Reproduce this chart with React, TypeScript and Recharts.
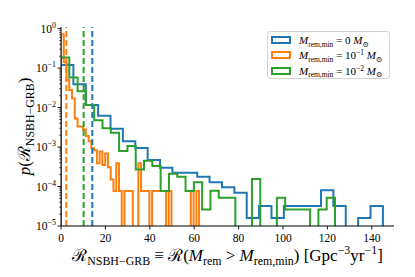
import React from 'react';
import { LineChart, Line, XAxis, YAxis, ReferenceLine, Legend } from 'recharts';

const FONT = '"Liberation Serif", "DejaVu Serif", serif';

// ---- data ----
const seriesNames = ['Mmin0', 'Mmin1', 'Mmin2'];
const seriesColors = ['#1f77b4', '#ff7f0e', '#2ca02c'];
const massMinBase = ['0', '10', '10'];
const massMinExp = ['', '−1', '−2'];

// histogram bin widths (Gpc^-3 yr^-1)
const binWidthM0 = 5.577;
const binWidthM1 = 1.244;
const binWidthM2 = 3.74;

// probability densities per bin
const densityM0 = [
  0.12, 0.039, 0.0116, 0.0062, 0.0029, 0.0014, 0.00095, 0.00047, 0.0003, 0.000224,
  0.000224, 0.000176, 0.000128, 0.000096, 0.00007, 0.000016, 0.000032, 0.000016, 0.000032, 0.000032,
  0.000032, 0.00008, 0.000032, 0, 0.000016, 0.000032,
];
const densityM1 = [
  0.72, 0.14, 0.05, 0.028, 0.017, 0.0053, 0.0033, 0.0033, 0.0028, 0.0019,
  0.0014, 0.00093, 0.00083, 0.00039, 0.00077, 0.00035, 0.00069, 0.00031, 0.00015, 0.000077,
  0.00039, 0.000077, 0, 0.000077, 0.000077, 0.000077, 0, 0, 0.00039, 0.000077,
  0.000077, 0.000077, 0, 0.000077, 0.000077, 0.000077, 0.000077, 0.000077, 0, 0.000077,
  0, 0, 0, 0, 0, 0, 0, 0.000077, 0, 0.000077,
];
const densityM2 = [
  0.187, 0.058, 0.026, 0.0116, 0.0048, 0.003, 0.0023, 0.0008, 0.00106, 0.00027,
  0.00045, 0.00033, 0.000077, 0.00021, 0.000177, 0.000077, 0.000128, 0.000026, 0.000078, 0.000052,
  0.000052, 0, 0, 0.000156, 0, 0, 0.000052, 0.000026, 0.000026, 0.000026,
  0, 0.000026, 0.000052,
];
const meanRate = [14.1, 2.4, 10.2];

const xTicks = [0, 20, 40, 60, 80, 100, 120, 140];
const yDecades = [-5, -4, -3, -2, -1, 0];
const xDomain: [number, number] = [0, 150];
const yDomain: [number, number] = [1e-5, 1.1];
const titleText = 'Gaussian mass ratio';

// ---- helpers ----
const FLOOR = 1e-9;
function stepPoints(dens: number[], w: number) {
  const pts: { x: number; y: number }[] = [{ x: 0, y: FLOOR }];
  dens.forEach((v, i) => pts.push({ x: i * w, y: v > 0 ? v : FLOOR }));
  pts.push({ x: dens.length * w, y: FLOOR });
  return pts;
}
const histograms = [
  stepPoints(densityM0, binWidthM0),
  stepPoints(densityM1, binWidthM1),
  stepPoints(densityM2, binWidthM2),
];
const yTicks: number[] = [];
yDecades.forEach((e) => {
  if (e === 0) yTicks.push(1);
  else [1, 2, 3, 4, 5, 6, 7, 8, 9].forEach((m) => yTicks.push(m * Math.pow(10, e)));
});

type Seg = { t: string; pos?: 'sub' | 'sup'; it?: boolean };
function rich(segs: Seg[], size: number) {
  let cur = 0;
  return segs.map((s, i) => {
    const target = s.pos === 'sub' ? size * 0.25 : s.pos === 'sup' ? -size * 0.4 : 0;
    const dy = target - cur;
    cur = target;
    return (
      <tspan key={i} dy={dy} fontSize={s.pos ? size * 0.7 : size} fontStyle={s.it ? 'italic' : 'normal'}>
        {s.t}
      </tspan>
    );
  });
}

const XTick = (props: any) => {
  const { x, y, payload } = props;
  return (
    <g>
      <line x1={x} x2={x} y1={y} y2={y + 3.5} stroke="#000" strokeWidth={0.9} />
      <text x={x} y={y + 16} textAnchor="middle" fontFamily={FONT} fontSize={11.5} fill="#000">
        {payload.value}
      </text>
    </g>
  );
};

const YTick = (props: any) => {
  const { x, y, payload } = props;
  const v = payload.value as number;
  const lg = Math.log10(v);
  const e = Math.round(lg);
  const major = Math.abs(lg - e) < 1e-6;
  return (
    <g>
      <line x1={x - (major ? 3.5 : 2)} x2={x} y1={y} y2={y} stroke="#000" strokeWidth={major ? 0.9 : 0.6} />
      {major && (
        <text x={x - 5} y={y + 4} textAnchor="end" fontFamily={FONT} fontSize={11.5} fill="#000">
          10
          <tspan dy={-5} fontSize={8}>{e === 0 ? '0' : '−' + -e}</tspan>
        </text>
      )}
    </g>
  );
};

const XLabelC = (props: any) => {
  const vb = props.viewBox || { x: 61, y: 226, width: 333, height: 51 };
  return (
    <text x={vb.x + vb.width / 2} y={vb.y + 35} textAnchor="middle" fontFamily={FONT} fill="#000" style={{ whiteSpace: 'pre' }}>
      {rich(
        [
          { t: 'ℛ' },
          { t: 'NSBH−GRB', pos: 'sub' },
          { t: ' ≡ ℛ(' },
          { t: 'M', it: true },
          { t: 'rem', pos: 'sub' },
          { t: ' > ' },
          { t: 'M', it: true },
          { t: 'rem,min', pos: 'sub' },
          { t: ') [Gpc' },
          { t: '−3', pos: 'sup' },
          { t: 'yr' },
          { t: '−1', pos: 'sup' },
          { t: ']' },
        ],
        17
      )}
    </text>
  );
};

const YLabelC = (props: any) => {
  const vb = props.viewBox || { x: 0, y: 27, width: 61, height: 199 };
  const cx = 30;
  const cy = vb.y + vb.height / 2;
  return (
    <text x={cx} y={cy} transform={`rotate(-90 ${cx} ${cy})`} textAnchor="middle" fontFamily={FONT} fill="#000" style={{ whiteSpace: 'pre' }}>
      {rich([{ t: 'p', it: true }, { t: '(ℛ' }, { t: 'NSBH−GRB', pos: 'sub' }, { t: ')' }], 17)}
    </text>
  );
};

const TitleC = (props: any) => {
  const vb = props.viewBox || { x: 61, y: 27, width: 333, height: 0 };
  return (
    <text x={vb.x + vb.width / 2} y={21} textAnchor="middle" fontFamily={FONT} fontSize={16} fill="#000">
      {titleText}
    </text>
  );
};

const LegendBox = () => (
  <div
    style={{
      position: 'relative',
      width: 123,
      height: 48,
      border: '1px solid #d3d3d3',
      borderRadius: 3,
      background: 'rgba(255,255,255,0.8)',
      boxSizing: 'border-box',
      fontFamily: FONT,
      fontSize: 11,
      color: '#000',
    }}
  >
    {seriesNames.map((n, i) => (
      <div key={n} style={{ position: 'absolute', left: 3, top: 1 + i * 15.4, height: 14, display: 'flex', alignItems: 'center', whiteSpace: 'nowrap' }}>
        <div style={{ width: 20, height: 8, border: `2px solid ${seriesColors[i]}`, boxSizing: 'border-box' }} />
        <span style={{ marginLeft: 8 }}>
          <i>M</i>
          <span style={{ fontSize: 7.5, position: 'relative', top: 2.5 }}>rem,min</span>
          {' = ' + massMinBase[i]}
          {massMinExp[i] && <span style={{ fontSize: 7.5, position: 'relative', top: -4 }}>{massMinExp[i]}</span>}
          {' '}
          <i>M</i>
          <span style={{ fontSize: 7.5, position: 'relative', top: 2.5 }}>⊙</span>
        </span>
      </div>
    ))}
  </div>
);

export default function App() {
  return (
    <div style={{ position: 'absolute', left: 0, top: 0, width: 415, height: 277, background: '#fff' }}>
      <LineChart width={415} height={277} margin={{ top: 27, right: 21, bottom: 0, left: 0 }}>
        <XAxis
          xAxisId="b"
          dataKey="x"
          type="number"
          domain={xDomain}
          allowDataOverflow
          ticks={xTicks}
          interval={0}
          height={51}
          axisLine={{ stroke: '#000', strokeWidth: 1 }}
          tickLine={false}
          tickSize={0}
          tickMargin={0}
          tick={<XTick />}
          label={<XLabelC />}
        />
        <XAxis
          xAxisId="t"
          orientation="top"
          dataKey="x"
          type="number"
          domain={xDomain}
          allowDataOverflow
          height={0}
          axisLine={{ stroke: '#000', strokeWidth: 1 }}
          tick={false}
          tickLine={false}
          label={<TitleC />}
        />
        <YAxis
          yAxisId="l"
          dataKey="y"
          type="number"
          scale="log"
          domain={yDomain}
          allowDataOverflow
          ticks={yTicks}
          interval={0}
          width={61}
          axisLine={{ stroke: '#000', strokeWidth: 1 }}
          tickLine={false}
          tickSize={0}
          tickMargin={0}
          tick={<YTick />}
          label={<YLabelC />}
        />
        <YAxis
          yAxisId="r"
          orientation="right"
          dataKey="y"
          type="number"
          scale="log"
          domain={yDomain}
          allowDataOverflow
          width={0}
          axisLine={{ stroke: '#000', strokeWidth: 1 }}
          tick={false}
          tickLine={false}
        />
        {histograms.map((h, i) => (
          <Line
            key={seriesNames[i]}
            name={seriesNames[i]}
            xAxisId="b"
            yAxisId="l"
            data={h}
            dataKey="y"
            type="stepAfter"
            stroke={seriesColors[i]}
            strokeWidth={2}
            dot={false}
            activeDot={false}
            isAnimationActive={false}
          />
        ))}
        {meanRate.map((m, i) => (
          <ReferenceLine
            key={'mean' + i}
            xAxisId="b"
            yAxisId="l"
            x={m}
            stroke={seriesColors[i]}
            strokeWidth={2}
            strokeDasharray="6 3"
          />
        ))}
        <Legend
          layout="vertical"
          align="center"
          verticalAlign="middle"
          wrapperStyle={{ left: 267, top: 31, width: 123, height: 48 }}
          content={() => <LegendBox />}
        />
      </LineChart>
    </div>
  );
}
